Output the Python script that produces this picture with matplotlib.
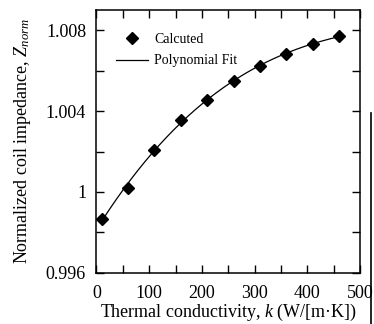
import numpy as np
import matplotlib
matplotlib.use('Agg')
import matplotlib.pyplot as plt
from matplotlib.lines import Line2D

k = [10, 60, 110, 160, 210, 260, 310, 360, 410, 460]
z_norm = [0.99867, 1.00021, 1.00210, 1.00354, 1.00456, 1.00549, 1.00625, 1.00685, 1.00731, 1.00771]

plt.rcParams['font.family'] = ['Liberation Serif', 'DejaVu Serif']
plt.rcParams['mathtext.fontset'] = 'custom'
plt.rcParams['mathtext.it'] = 'Liberation Serif:italic'
plt.rcParams['mathtext.rm'] = 'Liberation Serif'

fig = plt.figure(figsize=(3.74, 3.24), dpi=100)
ax = fig.add_axes([0.258, 0.158, 0.705, 0.811])

# polynomial fit through calculated points
coef = np.polyfit(k, z_norm, 3)
kk = np.linspace(k[0], k[-1], 200)
ax.plot(kk, np.polyval(coef, kk), color='black', lw=0.9, label='Polynomial Fit')
ax.plot(k, z_norm, 'D', color='black', ms=6.5, ls='none', label='Calcuted')

ax.set_xlim(0, 500)
ax.set_ylim(0.996, 1.009)
ax.set_xticks(np.arange(0, 501, 50))
ax.set_xticklabels(['0', '', '100', '', '200', '', '300', '', '400', '', '500'])
ax.set_yticks(np.arange(0.996, 1.0085, 0.002))
ax.set_yticklabels(['0.996', '', '1', '', '1.004', '', '1.008'])
ax.tick_params(direction='in', length=6, width=1, top=True, right=True, labelsize=13)
ax.tick_params(axis='x', pad=9)
ax.tick_params(axis='y', pad=7.5)
for s in ax.spines.values():
    s.set_linewidth(1.1)

ax.set_xlabel('Thermal conductivity, $k$ (W/[m·K])', fontsize=13, labelpad=0)
ax.set_ylabel('Normalized coil impedance, $Z_{norm}$', fontsize=13, labelpad=9)

h, l = ax.get_legend_handles_labels()
ax.legend(h[::-1], l[::-1], loc='upper left', frameon=False, fontsize=10,
          handlelength=2.3, handletextpad=0.5, labelspacing=0.6,
          bbox_to_anchor=(0.025, 0.96))

fig.add_artist(Line2D([0.992, 0.992], [0.0, 0.652], color='black', lw=1.2))

fig.savefig('out.png', dpi=100)
